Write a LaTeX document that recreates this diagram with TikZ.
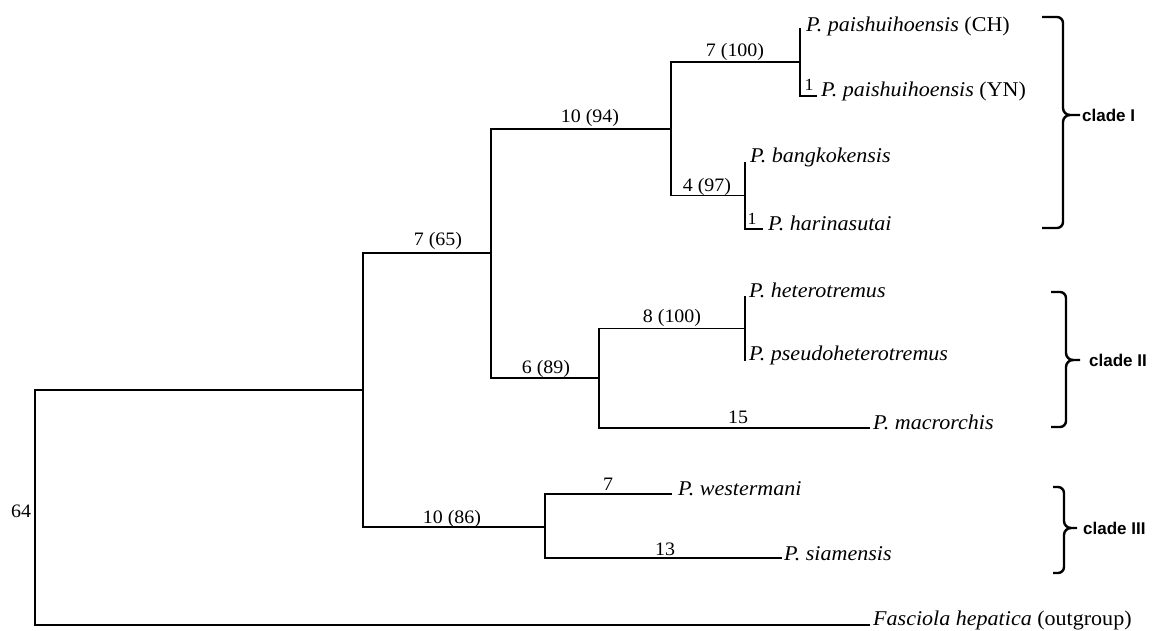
\documentclass[tikz,border=0pt]{standalone}
\usepackage{fontspec}
\setmainfont{Liberation Serif}[FakeStretch=1.05]
\newfontfamily\cladefont{Liberation Sans}
\newcommand\mybrace[6]{%
  \draw[brk] (#1,#3) -- (#2-6,#3) to[out=0,in=90] (#2,#3+6) -- (#2,#4-7)
    to[out=-90,in=180] (#2+7,#4) -- (#6,#4);
  \draw[brk] (#2+7,#4) to[out=180,in=90] (#2,#4+7) -- (#2,#5-6)
    to[out=-90,in=0] (#2-6,#5) -- (#1,#5);}
\begin{document}
\begin{tikzpicture}[x=1pt,y=-1pt,
  branch/.style={draw,line width=1.6pt},
  brk/.style={draw,line width=2.4pt},
  tax/.style={font=\fontsize{21}{24}\selectfont,anchor=base west,inner sep=0pt},
  blab/.style={font=\fontsize{19}{22}\selectfont,anchor=base,inner sep=0pt},
  one/.style={font=\fontsize{17}{20}\selectfont,anchor=base,inner sep=0pt},
  clade/.style={font=\cladefont\bfseries\fontsize{17}{20}\selectfont,anchor=west,inner sep=0pt}]
\useasboundingbox (0,0) rectangle (1158,631);
% internal nodes
\coordinate (root) at (35,507.5);
\coordinate (nA) at (363,390);
\coordinate (nB) at (491,253);
\coordinate (nC) at (671,129);
\coordinate (nD) at (800,62);
\coordinate (nE) at (745,195.5);
\coordinate (nF) at (599,378);
\coordinate (nG) at (745,328.5);
\coordinate (nH) at (545,527);
% tips
\coordinate (tCH) at (800,28);
\coordinate (tYN) at (817,96);
\coordinate (tBa) at (745,162);
\coordinate (tHa) at (763,229);
\coordinate (tHe) at (745,296);
\coordinate (tPs) at (745,361);
\coordinate (tMa) at (870,428);
\coordinate (tWe) at (672,494);
\coordinate (tSi) at (782,558);
\coordinate (tFa) at (870,625);
\foreach \p/\c in {root/nA,root/tFa,nA/nB,nA/nH,nB/nC,nB/nF,nC/nD,nC/nE,
  nD/tCH,nD/tYN,nE/tBa,nE/tHa,nF/nG,nF/tMa,nG/tHe,nG/tPs,nH/tWe,nH/tSi}
  \draw[branch] (\p) |- (\c);
% taxon labels
\node[tax] (lCH) at (806,32) {{\itshape P. paishuihoensis} (CH)};
\node[tax] (lYN) at (821,97) {{\itshape P. paishuihoensis} (YN)};
\node[tax] (lBa) at (750,163) {\itshape P. bangkokensis};
\node[tax] (lHa) at (768,230) {\itshape P. harinasutai};
\node[tax] (lHe) at (749,297) {\itshape P. heterotremus};
\node[tax] (lPs) at (749,360) {\itshape P. pseudoheterotremus};
\node[tax] (lMa) at (873,429) {\itshape P. macrorchis};
\node[tax] (lWe) at (678,495) {\itshape P. westermani};
\node[tax] (lSi) at (784,560) {\itshape P. siamensis};
\node[tax] (lFa) at (873,625) {{\itshape Fasciola hepatica} (outgroup)};
% branch labels
\node[blab] (b1) at (735,57) {7 (100)};
\node[one] (b2) at (809,91) {1};
\node[blab] (b3) at (707,192) {4 (97)};
\node[one] (b4) at (752,224) {1};
\node[blab] (b5) at (590,123) {10 (94)};
\node[blab] (b6) at (438,245) {7 (65)};
\node[blab] (b7) at (672,322) {8 (100)};
\node[blab] (b8) at (546,373) {6 (89)};
\node[blab] (b9) at (738,423) {15};
\node[blab] (b10) at (452,523) {10 (86)};
\node[blab] (b11) at (608,490) {7};
\node[blab] (b12) at (665,555) {13};
\node[blab] (b13) at (21,517) {64};
% clade brackets
\mybrace{1042}{1063}{17}{115}{228}{1080}
\mybrace{1051}{1066}{292}{360}{427}{1080}
\mybrace{1053}{1064}{487}{528}{573}{1077}
\node[clade] (c1) at (1082,115) {clade I};
\node[clade] (c2) at (1089,360) {clade II};
\node[clade] (c3) at (1083,528) {clade III};
\end{tikzpicture}
\end{document}
